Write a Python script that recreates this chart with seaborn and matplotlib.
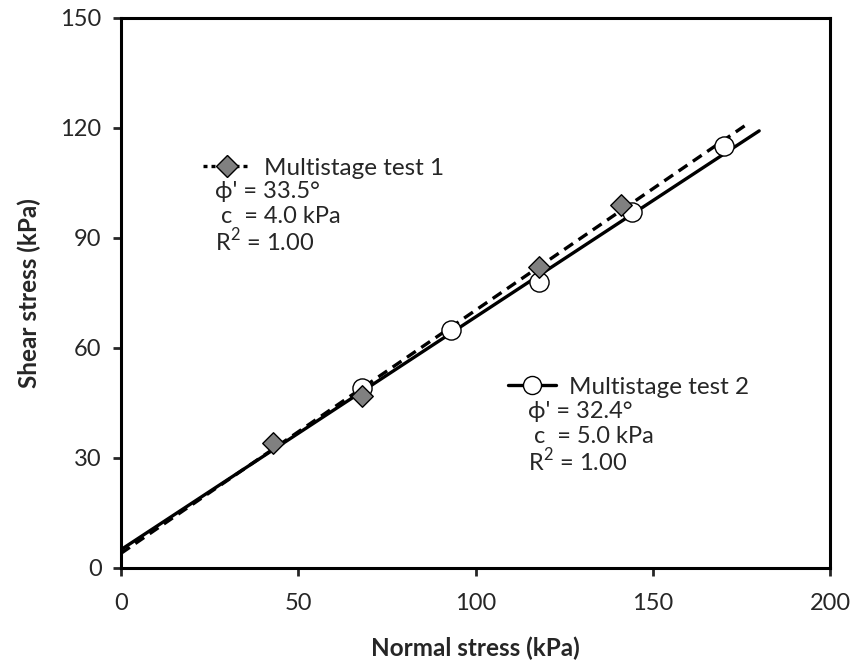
import pandas as pd
import matplotlib
matplotlib.use("Agg")
import matplotlib.pyplot as plt
from matplotlib.lines import Line2D
import seaborn as sns

# measured points (normal stress, shear stress) in kPa
test1_x = [43, 68, 118, 141]
test1_y = [34, 47, 82, 99]
test2_x = [68, 93, 118, 144, 170]
test2_y = [49, 65, 78, 97, 115]

# Mohr-Coulomb fit lines (end points)
fit1_x = [0, 177]
fit1_y = [4.0, 121.3]
fit2_x = [0, 180]
fit2_y = [5.0, 119.2]

labels = ["Multistage test 1", "Multistage test 2"]
stats1 = ["\u03d5' = 33.5\u00b0", " c  = 4.0 kPa", "R$^2$ = 1.00"]
stats2 = ["\u03d5' = 32.4\u00b0", " c  = 5.0 kPa", "R$^2$ = 1.00"]

sns.set_style("white")
plt.rcParams['font.family'] = ['Lato', 'DejaVu Sans']
plt.rcParams['mathtext.fontset'] = 'custom'
plt.rcParams['mathtext.rm'] = 'Lato'

fig = plt.figure(figsize=(8.54, 6.63), dpi=100)
ax = fig.add_axes([0.1417, 0.1433, 0.8303, 0.8297])

sns.lineplot(x=fit1_x, y=fit1_y, ax=ax, color="black", lw=2.4)
ax.lines[-1].set_dashes((3.2, 2.0))
sns.lineplot(x=fit2_x, y=fit2_y, ax=ax, color="black", lw=2.4)

sns.scatterplot(x=test2_x, y=test2_y, ax=ax, marker="o", s=190,
                color="white", edgecolor="black", linewidth=1.0, zorder=3)
sns.scatterplot(x=test1_x, y=test1_y, ax=ax, marker="D", s=120,
                color="#808080", edgecolor="black", linewidth=1.0, zorder=4)

ax.set_xlim(0, 200)
ax.set_ylim(0, 150)
ax.set_xticks([0, 50, 100, 150, 200])
ax.set_yticks([0, 30, 60, 90, 120, 150])
ax.tick_params(axis="both", direction="out", length=6, width=2,
               labelsize=17, bottom=True, left=True, pad=8)
ax.tick_params(axis="x", pad=12)
for sp in ax.spines.values():
    sp.set_linewidth(2.2)
    sp.set_color("black")

ax.set_xlabel("Normal stress (kPa)", fontsize=17.5, fontweight="bold", labelpad=16)
ax.set_ylabel("Shear stress (kPa)", fontsize=17.5, fontweight="bold", labelpad=14)

h1 = Line2D([], [], color="black", lw=2.4, dashes=(1.2, 1.2), marker="D",
            markersize=11, markerfacecolor="#808080", markeredgecolor="black")
h2 = Line2D([], [], color="black", lw=2.4, marker="o", markersize=13,
            markerfacecolor="white", markeredgecolor="black")
leg_kw = dict(loc="center left", frameon=False, fontsize=17.5, handlelength=1.95,
              handletextpad=0.55, borderpad=0, borderaxespad=0)
leg1 = ax.legend([h1], [labels[0]], bbox_to_anchor=(0.1157, 0.727), **leg_kw)
ax.add_artist(leg1)
ax.legend([h2], [labels[1]], bbox_to_anchor=(0.546, 0.329), **leg_kw)

for i, s in enumerate(stats1):
    ax.text(0.1326, 0.684 - i * 0.0445, s, transform=ax.transAxes,
            fontsize=17, va="center")
for i, s in enumerate(stats2):
    ax.text(0.574, 0.284 - i * 0.0445, s, transform=ax.transAxes,
            fontsize=17, va="center")

fig.savefig("out.png", dpi=100)
